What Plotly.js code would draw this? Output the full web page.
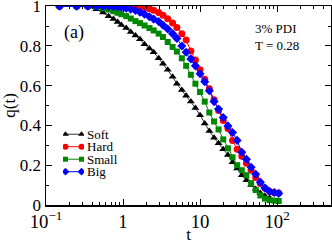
<!DOCTYPE html>
<html>
<head>
<meta charset="utf-8">
<script src="https://cdn.plot.ly/plotly-3.0.1.min.js"></script>
<style>html,body{margin:0;padding:0;background:#fff;}#chart{width:332px;height:244px;}</style>
</head>
<body>
<div id="chart"></div>
<script>
const tGrid = [0.15,0.25,0.35,0.45,0.55,0.65,0.75,0.85,0.95,1.1,1.26,1.45,1.66,1.9,2.2,2.5,2.9,3.3,3.8,4.4,5.0,5.8,6.6,7.6,8.7,10,11.5,13.2,15.2,17.4,20,23,26.4,30.3,34.8,40,46,52.8,60.6,69.6,80,92,105];
const qSoft = [1.0,1.0,0.998,0.985,0.968,0.95,0.935,0.92,0.906,0.89,0.87,0.852,0.834,0.808,0.787,0.768,0.738,0.71,0.68,0.645,0.61,0.578,0.55,0.52,0.488,0.452,0.41,0.372,0.338,0.31,0.28,0.252,0.215,0.183,0.15,0.125,0.1,0.08,0.06,0.045,0.035,null,null];
const qHard = [1,1,1,1,1,1,1,1,1,1,1,0.999,0.997,0.993,0.987,0.98,0.968,0.955,0.937,0.915,0.893,0.862,0.83,0.775,0.73,0.68,0.633,0.585,0.53,0.475,0.425,0.385,0.325,0.28,0.245,0.21,0.175,0.138,0.108,0.085,0.068,0.062,0.06];
const qSmall = [1,1,1,0.997,0.99,0.983,0.975,0.967,0.96,0.95,0.938,0.925,0.915,0.903,0.89,0.878,0.862,0.845,0.82,0.795,0.772,0.738,0.70,0.655,0.61,0.568,0.52,0.465,0.42,0.38,0.33,0.285,0.24,0.2,0.175,0.15,0.11,0.075,0.048,0.032,0.025,0.022,0.02];
const qBig = [1,1,1,1,1,1,0.999,0.997,0.995,0.99,0.985,0.978,0.97,0.96,0.947,0.935,0.923,0.905,0.885,0.862,0.838,0.80,0.768,0.735,0.70,0.66,0.62,0.575,0.52,0.483,0.44,0.398,0.365,0.325,0.265,0.23,0.19,0.155,0.115,0.085,0.068,0.063,0.058];
const yTickVals = [0,0.2,0.4,0.6,0.8,1];
const yTickText = ["0","0.2","0.4","0.6","0.8","1"];
const names = ["Soft","Hard","Small","Big"];
const colors = ["#000000","#ff0000","#008800","#0000ff"];
const symbols = ["triangle-up","circle","square","diamond"];
const sizes = [7,7,6,7];
const series = [qSoft,qHard,qSmall,qBig];

const font = "Liberation Serif, Times New Roman, serif";

const traces = series.map((q,i)=>({
  x: tGrid, y: q, name: names[i], type:'scatter', mode:'lines+markers',
  line:{color:colors[i], width: i===0?0.8:1},
  marker:{symbol:symbols[i], color:colors[i], size:sizes[i], line:{width:0}},
  connectgaps:false, showlegend:false
}));

// compact legend: one sample per series on a small auxiliary axis pair
const legendTraces = names.map((n,i)=>({
  x:[0,1], y:[names.length-1-i, names.length-1-i], xaxis:'x2', yaxis:'y2',
  type:'scatter', mode:'lines+markers', showlegend:false, hoverinfo:'skip',
  line:{color:colors[i], width: i===0?0.8:1},
  marker:{symbol:symbols[i], color:colors[i], size:sizes[i]-1, line:{width:0}}
}));
const legendLabels = names.map((n,i)=>({
  xref:'x2', yref:'y2', x:1, y:names.length-1-i, xanchor:'left', yanchor:'middle', xshift:3,
  text:n, showarrow:false, font:{family:font, size:13, color:'#000'}
}));

const layout = {
  width:332, height:244,
  margin:{l:46, r:1, t:6, b:39},
  paper_bgcolor:'#fff', plot_bgcolor:'#fff',
  font:{family:font, color:'#000', size:15},
  showlegend:false,
  xaxis:{type:'log', range:[-1, 2.7], dtick:1, exponentformat:'power',
         showgrid:false, zeroline:false, showline:true, linecolor:'#000', linewidth:1.5, mirror:'ticks',
         ticks:'inside', ticklen:6, tickwidth:1, tickcolor:'#000',
         minor:{ticks:'inside', ticklen:3, tickwidth:1, tickcolor:'#000', dtick:'D1', showgrid:false},
         tickfont:{family:font, size:15}, ticklabeloverflow:'allow',
         title:{text:'t', font:{family:font, size:17}, standoff:5}},
  yaxis:{range:[0,1.001], tickvals:yTickVals, ticktext:yTickText, showgrid:false, zeroline:false, showline:true, linecolor:'#000', linewidth:1.5, mirror:'ticks',
         ticks:'inside', ticklen:6, tickwidth:1, tickcolor:'#000',
         minor:{ticks:'inside', ticklen:3, tickwidth:1, tickcolor:'#000', dtick:0.1, showgrid:false},
         tickfont:{family:font, size:17}, ticklabeloverflow:'allow',
         title:{text:'q(t)', font:{family:font, size:17}, standoff:3}},
  xaxis2:{domain:[0.06,0.133], range:[-0.15,1.15], anchor:'y2', visible:false, fixedrange:true},
  yaxis2:{domain:[0.136,0.387], range:[-0.5,3.5], anchor:'x2', visible:false, fixedrange:true},
  annotations:[
    {xref:'paper', yref:'paper', x:0.055, y:0.865, xanchor:'left', yanchor:'middle', text:'(a)', showarrow:false, font:{family:font, size:18}},
    {xref:'paper', yref:'paper', x:0.725, y:0.885, xanchor:'left', yanchor:'middle', text:'3% PDI', showarrow:false, font:{family:font, size:13}},
    {xref:'paper', yref:'paper', x:0.725, y:0.803, xanchor:'left', yanchor:'middle', text:'T = 0.28', showarrow:false, font:{family:font, size:13}}
  ].concat(legendLabels)
};
Plotly.newPlot('chart', traces.concat(legendTraces), layout, {displayModeBar:false, staticPlot:true});
</script>
</body>
</html>
